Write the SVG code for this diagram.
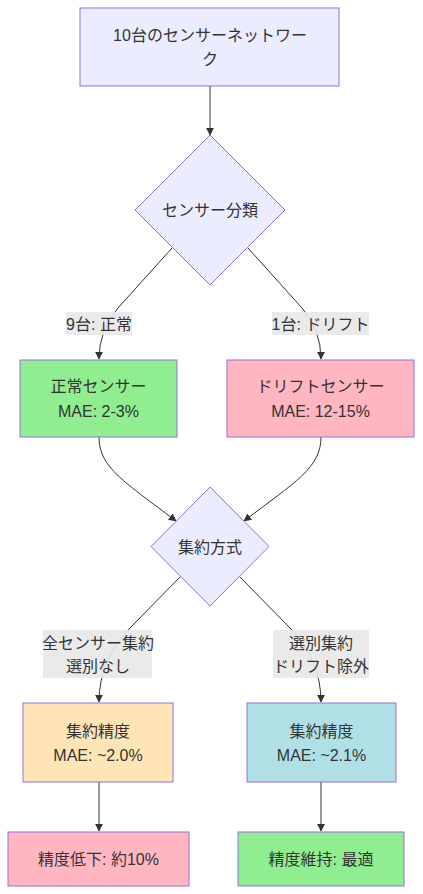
<svg xmlns="http://www.w3.org/2000/svg" width="423" height="894" viewBox="0 0 423 894">
<defs>
<marker id="arr" viewBox="0 0 10 10" refX="9" refY="5" markerWidth="8" markerHeight="8" markerUnits="userSpaceOnUse" orient="auto">
<path d="M0,0 L10,5 L0,10 z" fill="#333"/>
</marker>
<style>
text{font-family:"Liberation Sans","Noto Sans CJK JP",sans-serif;font-size:16px;fill:#333;text-anchor:middle;dominant-baseline:central}
.n{stroke:#9370DB;stroke-width:1}
.e{fill:none;stroke:#333;stroke-width:1;marker-end:url(#arr)}
.lb{fill:#e8e8e8;opacity:0.9}
</style>
</defs>
<rect width="423" height="894" fill="#fff"/>
<g id="connectors">
<path class="e" d="M210,86 L210,135"/>
<path class="e" d="M172,248 L118,308 Q99,330 99,359"/>
<path class="e" d="M248,248 L302,308 Q321,330 321,359"/>
<path class="e" d="M99,437 C99,468 125,482 176,521"/>
<path class="e" d="M321,437 C321,468 295,482 244,521"/>
<path class="e" d="M181,576 L130,628 Q99,660 99,702"/>
<path class="e" d="M239,576 L290,628 Q321,660 321,702"/>
<path class="e" d="M99,782 L99,831"/>
<path class="e" d="M321,782 L321,831"/>
</g>
<g id="edge-labels">
<rect class="lb" x="66" y="312" width="66" height="23"/>
<text x="99" y="324">9台: 正常</text>
<rect class="lb" x="272" y="312" width="97" height="23"/>
<text x="320.5" y="324">1台: ドリフト</text>
<rect class="lb" x="43" y="630" width="109" height="48"/>
<text x="98" y="643">全センサー集約</text>
<text x="98" y="666">選別なし</text>
<rect class="lb" x="273" y="630" width="96" height="48"/>
<text x="321" y="643">選別集約</text>
<text x="321" y="666">ドリフト除外</text>
</g>
<g id="network">
<rect class="n" x="80" y="8" width="259" height="78" fill="#ECECFF"/>
<text x="210" y="35">10台のセンサーネットワー</text>
<text x="210" y="59">ク</text>
</g>
<g id="classify">
<polygon class="n" points="210,135 285,210 210,285 135,210" fill="#ECECFF"/>
<text x="210" y="210">センサー分類</text>
</g>
<g id="normal">
<rect class="n" x="20" y="360" width="157" height="77" fill="#90EE90"/>
<text x="98.5" y="386">正常センサー</text>
<text x="98.5" y="411">MAE: 2-3%</text>
</g>
<g id="drift">
<rect class="n" x="227" y="360" width="187" height="77" fill="#FFB6C1"/>
<text x="320.5" y="386">ドリフトセンサー</text>
<text x="320.5" y="411">MAE: 12-15%</text>
</g>
<g id="method">
<polygon class="n" points="210,487 269,546.5 210,606 151,546.5" fill="#ECECFF"/>
<text x="210" y="547">集約方式</text>
</g>
<g id="all">
<rect class="n" x="23" y="703" width="150" height="79" fill="#FFE4B5"/>
<text x="98" y="731">集約精度</text>
<text x="98" y="755">MAE: ~2.0%</text>
</g>
<g id="selective">
<rect class="n" x="247" y="703" width="149" height="79" fill="#B0E0E6"/>
<text x="321.5" y="731">集約精度</text>
<text x="321.5" y="755">MAE: ~2.1%</text>
</g>
<g id="degrade">
<rect class="n" x="8" y="832" width="181" height="54" fill="#FFB6C1"/>
<text x="98.5" y="859">精度低下: 約10%</text>
</g>
<g id="keep">
<rect class="n" x="238" y="832" width="166" height="54" fill="#90EE90"/>
<text x="321" y="859">精度維持: 最適</text>
</g>
</svg>
